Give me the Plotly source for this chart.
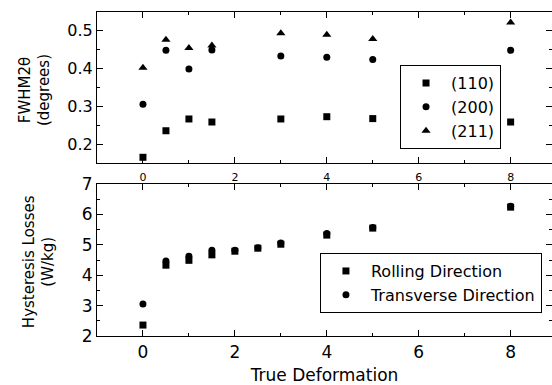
import plotly.graph_objects as go

# FWHM panel data
fwhm_x = [0, 0.5, 1, 1.5, 3, 4, 5, 8]
fwhm_110 = [0.165, 0.235, 0.266, 0.258, 0.266, 0.272, 0.267, 0.258]
fwhm_200 = [0.305, 0.447, 0.398, 0.448, 0.432, 0.429, 0.423, 0.447]
fwhm_211 = [0.401, 0.475, 0.453, 0.460, 0.492, 0.488, 0.477, 0.520]

# Hysteresis panel data
hyst_x = [0, 0.5, 1, 1.5, 2, 2.5, 3, 4, 5, 8]
hyst_rolling = [2.36, 4.33, 4.49, 4.67, 4.79, 4.89, 5.02, 5.32, 5.55, 6.24]
hyst_transverse = [3.05, 4.47, 4.62, 4.82, 4.82, 4.90, 5.06, 5.37, 5.57, 6.27]

FONT = "DejaVu Sans"
BLACK = "black"

fig = go.Figure()

mk = dict(color=BLACK, size=7)
fig.add_trace(go.Scatter(x=fwhm_x, y=fwhm_110, mode="markers", name="(110)",
                         marker=dict(symbol="square", **mk), xaxis="x", yaxis="y", legend="legend"))
fig.add_trace(go.Scatter(x=fwhm_x, y=fwhm_200, mode="markers", name="(200)",
                         marker=dict(symbol="circle", **mk), xaxis="x", yaxis="y", legend="legend"))
fig.add_trace(go.Scatter(x=fwhm_x, y=fwhm_211, mode="markers", name="(211)",
                         marker=dict(symbol="triangle-up", color=BLACK, size=8), xaxis="x", yaxis="y", legend="legend"))

fig.add_trace(go.Scatter(x=hyst_x, y=hyst_rolling, mode="markers", name="Rolling Direction",
                         marker=dict(symbol="square", **mk), xaxis="x2", yaxis="y2", legend="legend2"))
fig.add_trace(go.Scatter(x=hyst_x, y=hyst_transverse, mode="markers", name="Transverse Direction",
                         marker=dict(symbol="circle", **mk), xaxis="x2", yaxis="y2", legend="legend2"))

axcommon = dict(showline=True, linecolor=BLACK, linewidth=1.2, mirror="ticks",
                ticks="inside", ticklen=6, tickwidth=1.2, tickcolor=BLACK,
                showgrid=False, zeroline=False)

fig.update_layout(
    width=552, height=385,
    margin=dict(l=97, r=0, t=12, b=49),
    paper_bgcolor="white", plot_bgcolor="white",
    font=dict(family=FONT, color=BLACK),
    xaxis=dict(domain=[0, 1], anchor="y", range=[-1, 8.9], tick0=0, dtick=2,
               tickfont=dict(size=11), ticklabelstandoff=4,
               minor=dict(dtick=1, tick0=0, ticks="inside", ticklen=3, tickcolor=BLACK),
               **axcommon),
    yaxis=dict(domain=[0.534, 1], anchor="x", range=[0.15, 0.548], tick0=0.2, dtick=0.1,
               tickformat=".1f", tickfont=dict(size=16),
               minor=dict(dtick=0.05, tick0=0.15, ticks="inside", ticklen=3, tickcolor=BLACK),
               **axcommon),
    xaxis2=dict(domain=[0, 1], anchor="y2", range=[-1, 8.9], tick0=0, dtick=2,
                tickfont=dict(size=17),
                title=dict(text="True Deformation", font=dict(size=17), standoff=8),
                minor=dict(dtick=1, tick0=0, ticks="inside", ticklen=3, tickcolor=BLACK),
                **axcommon),
    yaxis2=dict(domain=[0, 0.469], anchor="x2", range=[2, 7], tick0=2, dtick=1,
                tickfont=dict(size=17),
                minor=dict(dtick=0.5, tick0=2, ticks="inside", ticklen=3, tickcolor=BLACK),
                **axcommon),
    legend=dict(x=0.666, y=0.836, xanchor="left", yanchor="top",
                bordercolor=BLACK, borderwidth=1, bgcolor="white",
                font=dict(size=16), itemwidth=40, tracegroupgap=0),
    legend2=dict(x=0.49, y=0.256, xanchor="left", yanchor="top",
                 bordercolor=BLACK, borderwidth=1, bgcolor="white",
                 font=dict(size=16), itemwidth=40, tracegroupgap=0),
    showlegend=True,
)

fig.add_annotation(text="FWHM2θ<br>(degrees)", xref="paper", yref="paper",
                   x=(35 - 97) / 455, y=0.759, xanchor="center", yanchor="middle",
                   textangle=-90, showarrow=False, font=dict(size=15))
fig.add_annotation(text="Hysteresis Losses<br>(W/kg)", xref="paper", yref="paper",
                   x=(39 - 97) / 455, y=0.228, xanchor="center", yanchor="middle",
                   textangle=-90, showarrow=False, font=dict(size=15))

fig.write_html("out.html")
